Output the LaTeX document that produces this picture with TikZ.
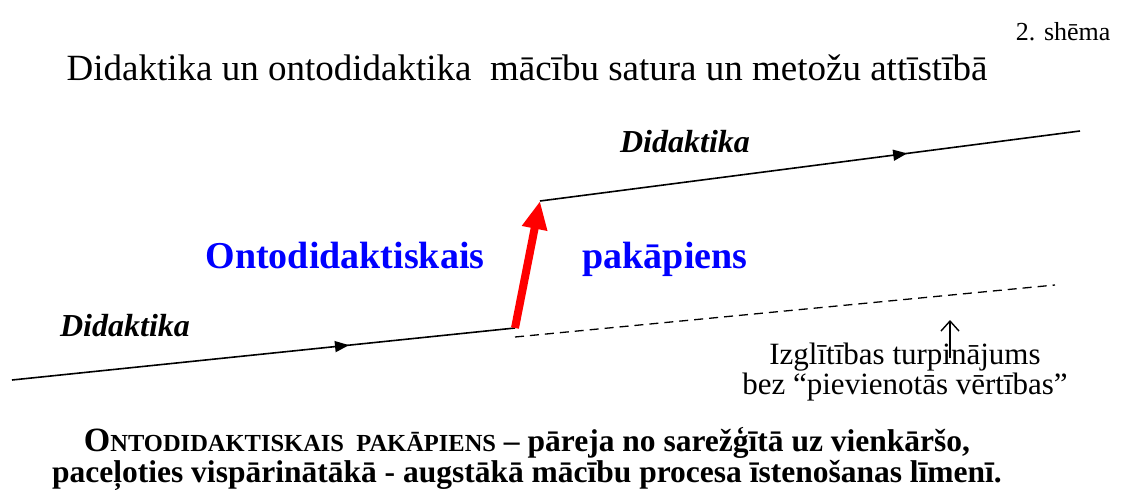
\documentclass[tikz,border=0pt]{standalone}
\usepackage{fontspec}
\setmainfont{Liberation Serif}
\usetikzlibrary{arrows.meta,decorations.markings}
\tikzset{
    scheme/.style      = {x=1pt, y=-1pt},
    path line/.style   = {line width=1.6pt},
    mid arrow/.style   = {postaction={decorate, decoration={markings,
                          mark=at position #1 with {\arrow{Triangle[length=14pt,width=11pt]}}}}},
    step arrow/.style  = {draw=red, line width=8pt,
                          -{Triangle[length=28pt,width=24pt]}},
    label/.style       = {font=\fontsize{32}{36}\selectfont\bfseries\itshape},
    step word/.style   = {font=\fontsize{38}{42}\selectfont\bfseries, text=blue},
    note/.style        = {font=\fontsize{31}{26}\selectfont, align=center},
    caption/.style     = {font=\fontsize{31.5}{28}\selectfont\bfseries, align=center}
}
\newcommand{\fakesc}[1]{{\fontsize{24.5}{28}\selectfont #1}}

\begin{document}
\begin{tikzpicture}[scheme]
\useasboundingbox (0,0) rectangle (1124,495);

% headings
\node[font=\fontsize{26}{30}\selectfont, anchor=east] (nr) at (1114,32) {2. shēma};
\node[font=\fontsize{37}{40}\selectfont] (title) at (527,68)
    {Didaktika un ontodidaktika\ \ mācību satura un metožu attīstībā};

% the two didactics paths and the step between them
\coordinate (lowA) at (12,380);
\coordinate (lowB) at (515,328);
\coordinate (upA)  at (540,201);
\coordinate (upB)  at (1080,131);
\coordinate (dashA) at (515,337);
\coordinate (dashB) at (1055,285);

\draw[path line, mid arrow=0.67] (lowA) -- (lowB);
\draw[path line, mid arrow=0.68] (upA) -- (upB);
\draw[line width=1.3pt, dashed, dash pattern=on 9pt off 6pt] (dashA) -- (dashB);
\draw[step arrow] (lowB) -- (upA);

\node[label] (didUp)  at (685,142) {Didaktika};
\node[label] (didLow) at (125,326) {Didaktika};
\node[step word, anchor=base] (onto) at (345,268) {Ontodidaktiskais};
\node[step word, anchor=base] (pak)  at (665,268) {pakāpiens};

% continuation without added value
\node[note] (cont) at (905,372)
    {Izglītības turpinājums\\bez “pievienotās vērtības”};
\coordinate (contTip) at (950,320);
\draw[line width=1.4pt, -{Straight Barb[length=10pt,width=18pt]}]
    (950,358) -- (contTip);

% definition
\node[caption] (def) at (527,459)
    {{\fontsize{34}{28}\selectfont O}\fakesc{NTODIDAKTISKAIS\ \ PAKĀPIENS} – pāreja no sarežģītā uz vienkāršo,\\
     paceļoties vispārinātākā - augstākā mācību procesa īstenošanas līmenī.};
\end{tikzpicture}
\end{document}
